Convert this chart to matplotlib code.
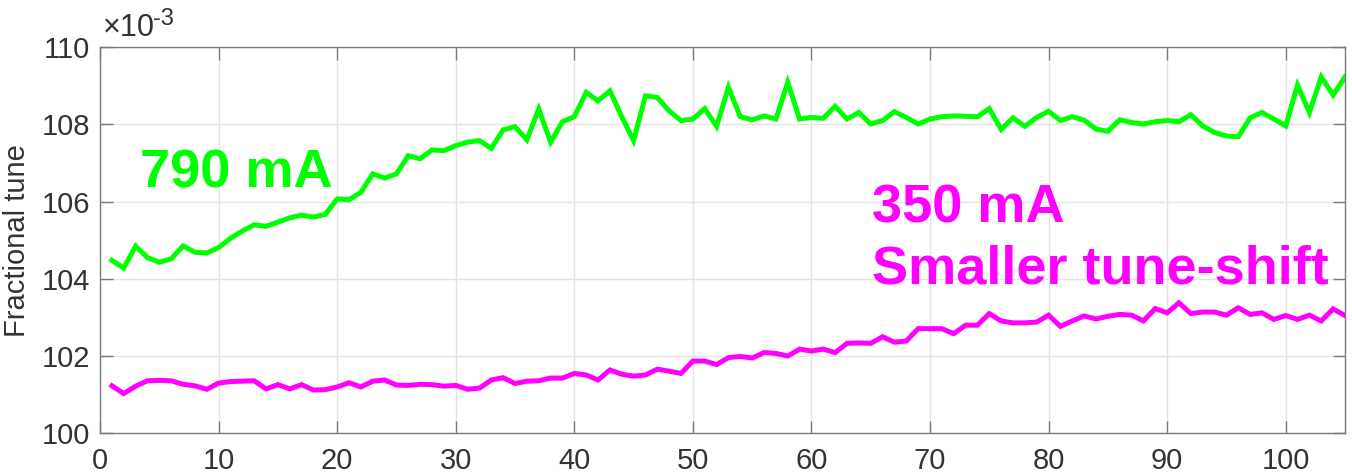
import matplotlib

matplotlib.use("Agg", force=True)
import matplotlib.pyplot as plt
import numpy as np

# fractional tune, in units of 1e-3
turns = np.arange(1, 106)

tune_790mA = [
    104.48, 104.28, 104.85, 104.55, 104.43, 104.52, 104.85, 104.69, 104.67, 104.81,
    105.05, 105.24, 105.40, 105.36, 105.47, 105.58, 105.65, 105.60, 105.67, 106.07,
    106.05, 106.24, 106.72, 106.61, 106.72, 107.19, 107.11, 107.34, 107.32, 107.45,
    107.54, 107.58, 107.38, 107.86, 107.94, 107.60, 108.40, 107.54, 108.07, 108.20,
    108.83, 108.61, 108.87, 108.20, 107.58, 108.74, 108.70, 108.35, 108.10, 108.14,
    108.41, 107.95, 108.96, 108.20, 108.12, 108.22, 108.14, 109.09, 108.14, 108.18,
    108.16, 108.47, 108.14, 108.31, 108.01, 108.10, 108.33, 108.18, 108.01, 108.14,
    108.20, 108.22, 108.21, 108.20, 108.41, 107.87, 108.17, 107.95, 108.18, 108.34,
    108.10, 108.20, 108.11, 107.88, 107.82, 108.12, 108.05, 108.01, 108.07, 108.10,
    108.07, 108.25, 107.96, 107.79, 107.70, 107.68, 108.17, 108.31, 108.14, 107.96,
    109.02, 108.31, 109.23, 108.76, 109.23,
]

tune_350mA = [
    101.23, 101.03, 101.22, 101.36, 101.37, 101.36, 101.27, 101.23, 101.14, 101.30,
    101.34, 101.35, 101.36, 101.15, 101.26, 101.15, 101.26, 101.12, 101.13, 101.20,
    101.31, 101.20, 101.35, 101.38, 101.25, 101.24, 101.27, 101.26, 101.22, 101.24,
    101.14, 101.17, 101.38, 101.44, 101.29, 101.35, 101.36, 101.43, 101.43, 101.55,
    101.51, 101.38, 101.64, 101.53, 101.48, 101.51, 101.66, 101.61, 101.55, 101.87,
    101.87, 101.78, 101.96, 101.99, 101.95, 102.09, 102.07, 102.00, 102.18, 102.13,
    102.18, 102.09, 102.33, 102.34, 102.33, 102.50, 102.36, 102.39, 102.71, 102.71,
    102.71, 102.58, 102.80, 102.80, 103.10, 102.91, 102.86, 102.86, 102.88, 103.06,
    102.77, 102.91, 103.04, 102.96, 103.03, 103.08, 103.06, 102.91, 103.23, 103.12,
    103.38, 103.10, 103.14, 103.14, 103.06, 103.25, 103.08, 103.12, 102.95, 103.05,
    102.95, 103.06, 102.91, 103.22, 103.05,
]

x_ticks = [0, 10, 20, 30, 40, 50, 60, 70, 80, 90, 100]
y_ticks = [100, 102, 104, 106, 108, 110]

FONT = "Liberation Sans"
GREEN = "#00ff00"
MAGENTA = "#ff00ff"
AXIS_GRAY = "#7a7a7a"
TEXT_GRAY = "#333333"

plt.rcParams["font.family"] = [FONT, "DejaVu Sans"]

fig = plt.figure(figsize=(13.52, 4.72), dpi=100)
ax = fig.add_axes([0.074, 0.082, 0.9208, 0.818])

ax.plot(turns, tune_790mA, color=GREEN, lw=3.6, solid_joinstyle="miter")
ax.plot(turns, tune_350mA, color=MAGENTA, lw=3.6, solid_joinstyle="miter")

ax.set_xlim(0, 105)
ax.set_ylim(100, 110)
ax.set_xticks(x_ticks)
ax.set_yticks(y_ticks)
ax.grid(True, color="#e4e4e4", lw=1.0)
ax.set_axisbelow(True)

ax.tick_params(direction="in", length=9, width=1.0, color=AXIS_GRAY,
               labelsize=21, labelcolor=TEXT_GRAY, top=True, right=True)
ax.tick_params(axis="x", pad=10)
ax.tick_params(axis="y", pad=7)
for sp in ax.spines.values():
    sp.set_color(AXIS_GRAY)
    sp.set_linewidth(1.0)

ax.set_ylabel("Fractional tune", fontsize=21, color=TEXT_GRAY, labelpad=8)

# exponent label like MATLAB: "×10" with a raised "-3"
ax.text(0.002, 1.01, "\u00d710", transform=ax.transAxes,
        fontsize=22, color=TEXT_GRAY, ha="left", va="bottom")
ax.annotate("-3", xy=(0.002, 1.01), xycoords="axes fraction",
            xytext=(50, 13), textcoords="offset pixels",
            fontsize=17, color=TEXT_GRAY, ha="left", va="bottom")

ax.text(3.4, 106.36, "790 mA", color=GREEN, fontsize=39, fontweight="bold",
        ha="left", va="baseline")
ax.text(65.1, 105.47, "350 mA", color=MAGENTA, fontsize=39, fontweight="bold",
        ha="left", va="baseline")
ax.text(65.1, 103.88, "Smaller tune-shift", color=MAGENTA, fontsize=39,
        fontweight="bold", ha="left", va="baseline")

fig.savefig("out.png", dpi=100)
